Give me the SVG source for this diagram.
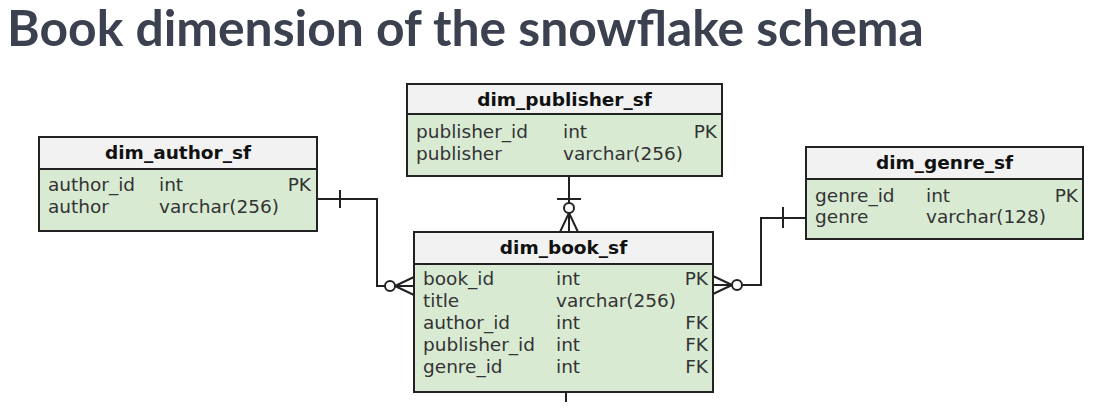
<svg xmlns="http://www.w3.org/2000/svg" width="1094" height="416" viewBox="0 0 1094 416">
<style>
.title{font-family:Lato,"Liberation Sans",sans-serif;font-weight:bold;font-size:49.8px;fill:#3c4150}
.hd{fill:#f2f2f2;stroke:#222;stroke-width:2}
.bd{fill:#d9ead3;stroke:#222;stroke-width:2}
.h{font-family:"DejaVu Sans",sans-serif;font-weight:bold;font-size:18.5px;fill:#111;text-anchor:middle}
.t{font-family:"DejaVu Sans",sans-serif;font-size:18.5px;fill:#333}
.k{font-family:"DejaVu Sans",sans-serif;font-size:18.5px;fill:#333;text-anchor:end}
.c{fill:none;stroke:#222;stroke-width:2}
.o{fill:#fff;stroke:#222;stroke-width:2}
</style>
<rect width="1094" height="416" fill="#fff"/>
<text class="title" x="7" y="46">Book dimension of the snowflake schema</text>

<g id="connectors">
  <!-- author -> book -->
  <path class="c" d="M317 199 H377 V286 H414"/>
  <path class="c" d="M340 190 V208"/>
  <path class="c" d="M395 286 L414 277 M395 286 L414 295"/>
  <circle class="o" cx="390" cy="286" r="5"/>
  <!-- publisher -> book -->
  <path class="c" d="M569 176 V232"/>
  <path class="c" d="M557 199 H581"/>
  <path class="c" d="M569 213 L560 232 M569 213 L578 232"/>
  <circle class="o" cx="569" cy="208" r="5"/>
  <!-- genre -> book -->
  <path class="c" d="M806 218 H761 V285 H713"/>
  <path class="c" d="M783 207 V228"/>
  <path class="c" d="M732 285 L713 276 M732 285 L713 294"/>
  <circle class="o" cx="737" cy="285" r="5"/>
  <!-- stub below book -->
  <path class="c" d="M566 392 V402"/>
</g>

<g id="dim_author_sf">
  <rect class="bd" x="39" y="137" width="278" height="94"/>
  <rect class="hd" x="39" y="137" width="278" height="32"/>
  <text class="h" x="178" y="159">dim_author_sf</text>
  <text class="t" x="48" y="191">author_id</text>
  <text class="t" x="159" y="191">int</text>
  <text class="k" x="311" y="191">PK</text>
  <text class="t" x="48" y="212.5">author</text>
  <text class="t" x="159" y="212.5">varchar(256)</text>
</g>

<g id="dim_publisher_sf">
  <rect class="bd" x="407" y="84" width="315" height="92"/>
  <rect class="hd" x="407" y="84" width="315" height="30"/>
  <text class="h" x="564.5" y="106">dim_publisher_sf</text>
  <text class="t" x="416" y="138">publisher_id</text>
  <text class="t" x="563" y="138">int</text>
  <text class="k" x="717" y="138">PK</text>
  <text class="t" x="416" y="160">publisher</text>
  <text class="t" x="563" y="160">varchar(256)</text>
</g>

<g id="dim_book_sf">
  <rect class="bd" x="414" y="232" width="299" height="160"/>
  <rect class="hd" x="414" y="232" width="299" height="32"/>
  <text class="h" x="563.5" y="254">dim_book_sf</text>
  <text class="t" x="423" y="285">book_id</text>
  <text class="t" x="556" y="285">int</text>
  <text class="k" x="708" y="285">PK</text>
  <text class="t" x="423" y="307">title</text>
  <text class="t" x="556" y="307">varchar(256)</text>
  <text class="t" x="423" y="329">author_id</text>
  <text class="t" x="556" y="329">int</text>
  <text class="k" x="708" y="329">FK</text>
  <text class="t" x="423" y="351">publisher_id</text>
  <text class="t" x="556" y="351">int</text>
  <text class="k" x="708" y="351">FK</text>
  <text class="t" x="423" y="373">genre_id</text>
  <text class="t" x="556" y="373">int</text>
  <text class="k" x="708" y="373">FK</text>
</g>

<g id="dim_genre_sf">
  <rect class="bd" x="806" y="147" width="277" height="92"/>
  <rect class="hd" x="806" y="147" width="277" height="32"/>
  <text class="h" x="944.5" y="169">dim_genre_sf</text>
  <text class="t" x="815" y="202">genre_id</text>
  <text class="t" x="926" y="202">int</text>
  <text class="k" x="1078" y="202">PK</text>
  <text class="t" x="815" y="223">genre</text>
  <text class="t" x="926" y="223">varchar(128)</text>
</g>
</svg>
